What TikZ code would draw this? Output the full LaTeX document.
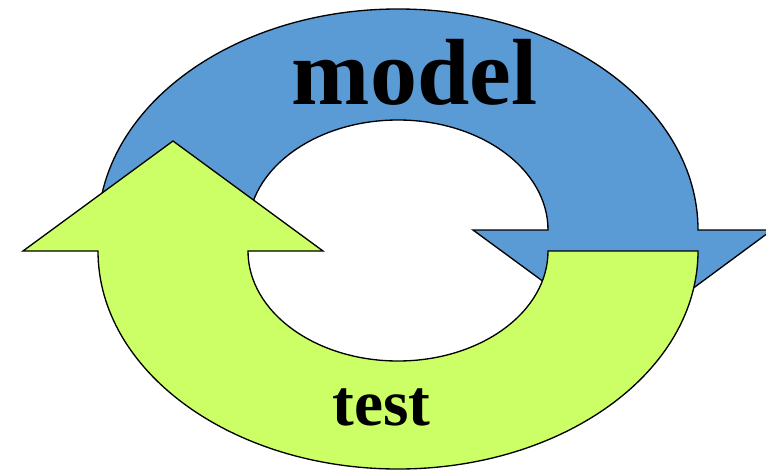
\documentclass[tikz,border=0pt]{standalone}
\usepackage{fontspec}
\setmainfont{Liberation Serif}
\definecolor{cycleblue}{RGB}{91,155,213}
\definecolor{cyclegreen}{RGB}{204,255,102}
\begin{document}
\begin{tikzpicture}[x=0.75pt,y=0.75pt,
  band/.style={draw=black,line width=1pt,line join=miter},
  lbl/.style={anchor=base,inner sep=0pt,font=\bfseries}]
\useasboundingbox (0,0) rectangle (766,472);
\clip (0,0) rectangle (766,472);
% upper half-ring with its arrowhead pointing down on the right
\fill[white] (0,0) rectangle (766,472);
\filldraw[band,fill=cycleblue]
  (98,242) arc[start angle=180,end angle=0,x radius=300,y radius=221]
  -- (772,242) -- (623,132) -- (473,242) -- (548,242)
  arc[start angle=0,end angle=180,x radius=150,y radius=110] -- cycle;
% lower half-ring with its arrowhead pointing up on the left
\filldraw[band,fill=cyclegreen]
  (548,221) -- (698,221)
  arc[start angle=0,end angle=-180,x radius=300,y radius=218]
  -- (23,221) -- (173,331) -- (323,221) -- (248,221)
  arc[start angle=180,end angle=360,x radius=150,y radius=110] -- cycle;
% labels
\node[lbl,font=\bfseries\fontsize{70.5}{80}\selectfont] (model) at (414.5,367) {model};
\node[lbl,font=\bfseries\fontsize{49}{56}\selectfont] (test) at (381.5,47) {test};
\end{tikzpicture}
\end{document}
